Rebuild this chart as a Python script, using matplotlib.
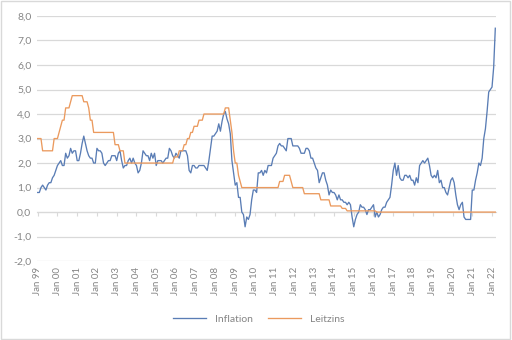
import numpy as np
import matplotlib
matplotlib.use("Agg")
import matplotlib.pyplot as plt
from matplotlib.patches import Rectangle

plt.rcParams['font.family'] = ['Lato', 'DejaVu Sans']

# monthly values, Jan 1999 .. Mar 2022
inflation = [
    0.8, 0.8, 1.0, 1.1, 1.0, 0.9, 1.1, 1.2, 1.2, 1.4, 1.5, 1.7,   # 1999
    1.9, 2.0, 2.1, 1.9, 1.9, 2.4, 2.2, 2.3, 2.6, 2.4, 2.5, 2.5,   # 2000
    2.1, 2.1, 2.4, 2.8, 3.1, 2.8, 2.5, 2.3, 2.2, 2.2, 2.0, 2.0,   # 2001
    2.6, 2.5, 2.5, 2.4, 2.0, 1.9, 2.0, 2.1, 2.1, 2.3, 2.3, 2.3,   # 2002
    2.1, 2.4, 2.5, 2.1, 1.8, 1.9, 1.9, 2.1, 2.2, 2.0, 2.2, 2.0,   # 2003
    1.9, 1.6, 1.7, 2.0, 2.5, 2.4, 2.3, 2.3, 2.1, 2.4, 2.2, 2.4,   # 2004
    1.9, 2.1, 2.1, 2.1, 2.0, 2.1, 2.2, 2.2, 2.6, 2.5, 2.3, 2.2,   # 2005
    2.4, 2.3, 2.2, 2.5, 2.5, 2.5, 2.5, 2.3, 1.7, 1.6, 1.9, 1.9,   # 2006
    1.8, 1.8, 1.9, 1.9, 1.9, 1.9, 1.8, 1.7, 2.1, 2.6, 3.1, 3.1,   # 2007
    3.2, 3.3, 3.6, 3.3, 3.7, 4.0, 4.1, 3.8, 3.6, 3.2, 2.1, 1.6,   # 2008
    1.1, 1.2, 0.6, 0.6, 0.0, -0.1, -0.6, -0.2, -0.3, -0.1, 0.5, 0.9,  # 2009
    0.9, 0.8, 1.6, 1.6, 1.7, 1.5, 1.7, 1.6, 1.9, 1.9, 1.9, 2.2,   # 2010
    2.3, 2.4, 2.7, 2.8, 2.7, 2.7, 2.6, 2.5, 3.0, 3.0, 3.0, 2.7,   # 2011
    2.7, 2.7, 2.7, 2.6, 2.4, 2.4, 2.4, 2.6, 2.6, 2.5, 2.2, 2.2,   # 2012
    2.0, 1.8, 1.7, 1.2, 1.4, 1.6, 1.6, 1.3, 1.1, 0.7, 0.9, 0.8,   # 2013
    0.8, 0.7, 0.5, 0.7, 0.5, 0.5, 0.4, 0.4, 0.3, 0.4, 0.3, -0.2,  # 2014
    -0.6, -0.3, -0.1, 0.0, 0.3, 0.2, 0.2, 0.1, -0.1, 0.1, 0.1, 0.2,  # 2015
    0.3, -0.2, 0.0, -0.2, -0.1, 0.1, 0.2, 0.2, 0.4, 0.5, 0.6, 1.1,  # 2016
    1.7, 2.0, 1.5, 1.9, 1.4, 1.3, 1.3, 1.5, 1.5, 1.4, 1.5, 1.3,   # 2017
    1.3, 1.1, 1.4, 1.2, 1.9, 2.0, 2.1, 2.0, 2.1, 2.2, 1.9, 1.5,   # 2018
    1.4, 1.5, 1.4, 1.7, 1.2, 1.3, 1.0, 1.0, 0.8, 0.7, 1.0, 1.3,   # 2019
    1.4, 1.2, 0.7, 0.3, 0.1, 0.3, 0.4, -0.2, -0.3, -0.3, -0.3, -0.3,  # 2020
    0.9, 0.9, 1.3, 1.6, 2.0, 1.9, 2.2, 3.0, 3.4, 4.1, 4.9, 5.0,   # 2021
    5.1, 5.9, 7.5,                                                # 2022
]

leitzins = (
    [3.0, 3.0, 3.0] + [2.5] * 7 + [3.0, 3.0] +                        # 1999
    [3.0, 3.25, 3.5, 3.75, 3.75, 4.25, 4.25, 4.25, 4.5, 4.75, 4.75, 4.75] +  # 2000
    [4.75] * 4 + [4.5] * 3 + [4.25, 3.75, 3.75, 3.25, 3.25] +         # 2001
    [3.25] * 11 + [2.75] +                                            # 2002
    [2.75, 2.75, 2.5, 2.5, 2.5] + [2.0] * 7 +                         # 2003
    [2.0] * 12 +                                                      # 2004
    [2.0] * 11 + [2.25] +                                             # 2005
    [2.25, 2.25, 2.5, 2.5, 2.5, 2.75, 2.75, 3.0, 3.0, 3.25, 3.25, 3.5] +  # 2006
    [3.5, 3.5, 3.75, 3.75, 3.75] + [4.0] * 7 +                        # 2007
    [4.0] * 6 + [4.25, 4.25, 4.25, 3.75, 3.25, 2.5] +                 # 2008
    [2.0, 2.0, 1.5, 1.25] + [1.0] * 8 +                               # 2009
    [1.0] * 12 +                                                      # 2010
    [1.0, 1.0, 1.0, 1.25, 1.25, 1.25, 1.5, 1.5, 1.5, 1.5, 1.25, 1.0] +  # 2011
    [1.0] * 6 + [0.75] * 6 +                                          # 2012
    [0.75] * 4 + [0.5] * 6 + [0.25, 0.25] +                           # 2013
    [0.25] * 5 + [0.15] * 3 + [0.05] * 4 +                            # 2014
    [0.05] * 12 +                                                     # 2015
    [0.05, 0.05] + [0.0] * 10 +                                       # 2016
    [0.0] * 60 +                                                      # 2017-2021
    [0.0] * 3                                                         # 2022
)

years = [f"Jan {y % 100:02d}" for y in range(1999, 2023)]
yticks = list(range(-2, 9))

grey = '#858585'
grid = '#d9d9d9'

fig = plt.figure(figsize=(5.12, 3.4), dpi=100)
ax = fig.add_axes([0.072, 0.232, 0.897, 0.721])

x = np.arange(len(inflation))
ax.plot(x, inflation, color='#5a7db5', lw=0.95, label='Inflation')
ax.plot(x, leitzins, color='#eb9a5e', lw=0.95, label='Leitzins')

ax.set_xlim(-0.5, len(inflation) - 0.5)
ax.set_ylim(-2, 8)
ax.set_yticks(yticks)
ax.set_yticklabels([f"{v:.1f}".replace('.', ',') for v in yticks],
                   color=grey, fontsize=7.5)
ax.yaxis.grid(True, color=grid, lw=0.9)
ax.set_axisbelow(True)

jan_pos = np.arange(0, len(inflation), 12)
ax.set_xticks(jan_pos)
ax.set_xticklabels(years, rotation=90, color=grey, fontsize=7)
ax.tick_params(axis='both', length=0, pad=4)

for s in ax.spines.values():
    s.set_visible(False)

# zero line with tick marks
sec = ax.secondary_xaxis(0.2)
sec.set_xticks(jan_pos)
sec.tick_params(axis='x', labelbottom=False, length=3, color=grid)
sec.spines['bottom'].set_color(grid)

fig.legend(loc='center', bbox_to_anchor=(0.505, 0.062), ncol=2, frameon=False,
           fontsize=7.5, labelcolor=grey, handlelength=3.2, columnspacing=1.5)

fig.patches.append(Rectangle((0.002, 0.003), 0.994, 0.994, transform=fig.transFigure,
                             fill=False, edgecolor=grid, lw=1))

fig.savefig('out.png', dpi=100)
